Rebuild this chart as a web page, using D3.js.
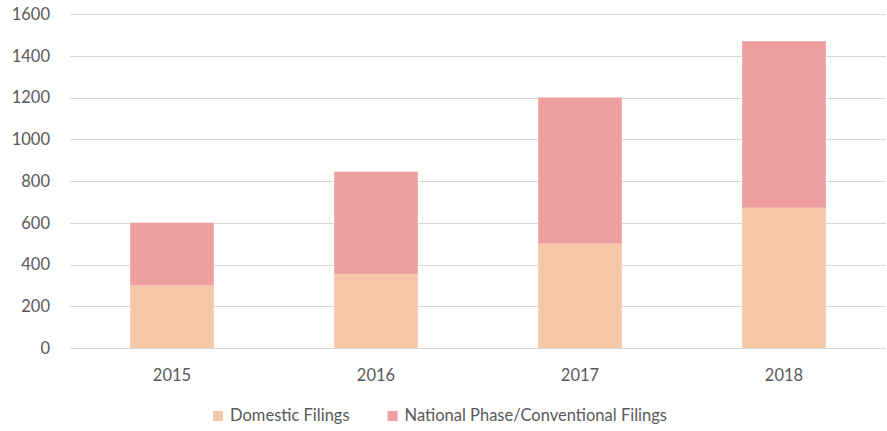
<!DOCTYPE html>
<html>
<head>
<meta charset="utf-8">
<script src="https://cdn.jsdelivr.net/npm/d3@7"></script>
<style>
    body { margin: 0; background: #fff; }
    text { font-family: Lato, "Open Sans", sans-serif; fill: #595959; }
</style>
</head>
<body>
<div id="chart"></div>
<script>
const years = ["2015", "2016", "2017", "2018"];
const domestic = [300, 355, 500, 672];
const national = [300, 490, 700, 798];
const seriesNames = ["Domestic Filings", "National Phase/Conventional Filings"];
const seriesColors = ["#f5c8a8", "#ee9e9f"];
const yTicks = [0, 200, 400, 600, 800, 1000, 1200, 1400, 1600];

const width = 887, height = 431;
const margin = { top: 14, right: 1, bottom: 83, left: 70 };
const fontSize = "16.5px";

const svg = d3.select("#chart")
    .append("svg")
    .attr("width", width)
    .attr("height", height);

const x = d3.scaleBand()
    .domain(years)
    .range([margin.left, width - margin.right])
    .paddingInner(0.59)
    .paddingOuter(0.295);

const y = d3.scaleLinear()
    .domain([0, 1600])
    .range([height - margin.bottom, margin.top]);

// gridlines
svg.append("g")
    .selectAll("line")
    .data(yTicks)
    .join("line")
    .attr("x1", margin.left)
    .attr("x2", width - margin.right)
    .attr("y1", d => Math.round(y(d)) + 0.5)
    .attr("y2", d => Math.round(y(d)) + 0.5)
    .attr("stroke", "#d9d9d9")
    .attr("stroke-width", 1.2);

// y axis labels
const yAxis = svg.append("g")
    .attr("transform", `translate(${margin.left},0)`)
    .call(d3.axisLeft(y).tickValues(yTicks).tickFormat(d3.format("d")).tickSize(0).tickPadding(20));
yAxis.select(".domain").remove();
yAxis.selectAll("text")
    .style("font-size", fontSize)
    .style("font-family", "Lato, 'Open Sans', sans-serif")
    .attr("fill", "#595959");

// stacked bars
const rows = years.map((yr, i) => ({ year: yr, domestic: domestic[i], national: national[i] }));
const stack = d3.stack().keys(["domestic", "national"])(rows);

svg.append("g")
    .selectAll("g")
    .data(stack)
    .join("g")
    .attr("fill", (d, i) => seriesColors[i])
    .selectAll("rect")
    .data(d => d)
    .join("rect")
    .attr("x", d => x(d.data.year))
    .attr("width", x.bandwidth())
    .attr("y", d => y(d[1]))
    .attr("height", d => y(d[0]) - y(d[1]));

// x axis labels
const xAxis = svg.append("g")
    .attr("transform", `translate(0,${height - margin.bottom})`)
    .call(d3.axisBottom(x).tickSize(0).tickPadding(21));
xAxis.select(".domain").remove();
xAxis.selectAll("text")
    .style("font-size", fontSize)
    .style("font-family", "Lato, 'Open Sans', sans-serif")
    .attr("fill", "#595959");

// legend
const legend = svg.append("g");
const items = legend.selectAll("g")
    .data(seriesNames)
    .join("g");
items.append("rect")
    .attr("width", 10)
    .attr("height", 10)
    .attr("y", -10)
    .attr("fill", (d, i) => seriesColors[i]);
items.append("text")
    .attr("x", 17)
    .attr("y", 0)
    .style("font-size", fontSize)
    .text(d => d);

let offset = 0;
items.each(function () {
    const w = this.getBBox().width;
    d3.select(this).attr("data-x", offset);
    offset += w + 38;
});
offset -= 38;
const startX = 440 - offset / 2;
items.attr("transform", function () {
    return `translate(${startX + +this.getAttribute("data-x")},${height - 10})`;
});
</script>
</body>
</html>
